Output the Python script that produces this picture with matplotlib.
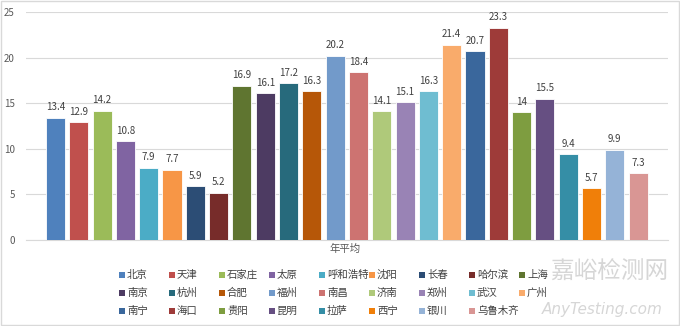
import numpy as np
import matplotlib
matplotlib.use("Agg")
import matplotlib.pyplot as plt
from matplotlib.patches import Rectangle

plt.rcParams['font.family'] = ['Noto Sans CJK SC', 'DejaVu Sans']

# 城市与年平均值
cities = ['北京', '天津', '石家庄', '太原', '呼和浩特', '沈阳', '长春', '哈尔滨', '上海',
          '南京', '杭州', '合肥', '福州', '南昌', '济南', '郑州', '武汉', '广州',
          '南宁', '海口', '贵阳', '昆明', '拉萨', '西宁', '银川', '乌鲁木齐']
values = [13.4, 12.9, 14.2, 10.8, 7.9, 7.7, 5.9, 5.2, 16.9,
          16.1, 17.2, 16.3, 20.2, 18.4, 14.1, 15.1, 16.3, 21.4,
          20.7, 23.3, 14, 15.5, 9.4, 5.7, 9.9, 7.3]
labels = ['13.4', '12.9', '14.2', '10.8', '7.9', '7.7', '5.9', '5.2', '16.9',
          '16.1', '17.2', '16.3', '20.2', '18.4', '14.1', '15.1', '16.3', '21.4',
          '20.7', '23.3', '14', '15.5', '9.4', '5.7', '9.9', '7.3']
yticks = [0, 5, 10, 15, 20, 25]

colors = ['#4F81BD', '#C0504D', '#9BBB59', '#8064A2', '#4BACC6', '#F79646', '#2C4D75', '#772C2A', '#5F7530',
          '#4D3B62', '#276A7C', '#B65708', '#729ACA', '#CD7371', '#AFC97A', '#9983B5', '#6FBDD1', '#F9AB6B',
          '#3A679C', '#9E3B39', '#7E9D40', '#664F82', '#358EA6', '#F07F09', '#95B3D7', '#D99694']

fig = plt.figure(figsize=(6.8, 3.26), dpi=100)
ax = fig.add_axes([0.038, 0.264, 0.944, 0.699])

x = np.arange(len(values))
ax.bar(x, values, width=0.82, color=colors, edgecolor='white', linewidth=0.6, zorder=3)
for xi, v, lab in zip(x, values, labels):
    ax.text(xi, v + 0.6, lab, ha='center', va='bottom', fontsize=7, color='#404040')

ax.set_xlim(-1.27, 26.27)
ax.set_ylim(0, 25)
ax.set_yticks(yticks)
ax.set_xticks([])
ax.tick_params(axis='y', length=0, labelsize=7, labelcolor='#595959', pad=8)
ax.grid(axis='y', color='#D9D9D9', linewidth=0.8, zorder=0)
for s in ['top', 'right', 'left']:
    ax.spines[s].set_visible(False)
ax.spines['bottom'].set_color('#D9D9D9')

fig.text(0.507, 0.236, '年平均', ha='center', va='center', fontsize=7.5, color='#595959')

# 图例 (9列)
ncol = 9
for i, (c, col) in enumerate(zip(cities, colors)):
    r, k = divmod(i, ncol)
    px = 122 + k * 50
    py = 275 + r * 18
    fig.patches.append(Rectangle(((px - 3) / 680, 1 - (py + 3) / 326), 6 / 680, 6 / 326,
                                 transform=fig.transFigure, facecolor=col, edgecolor='none'))
    fig.text((px + 5) / 680, 1 - py / 326, c, ha='left', va='center', fontsize=7.5, color='#404040')

# 水印
fig.text(0.982, 0.165, '嘉峪检测网', ha='right', va='center', fontsize=17, color='#BBBBBB', alpha=0.6)
fig.text(0.975, 0.052, 'AnyTesting.com', ha='right', va='center', fontsize=11, color='#BBBBBB',
         alpha=0.6, style='italic', family='DejaVu Sans')

fig.patches.append(Rectangle((0.001, 0.002), 0.997, 0.995, transform=fig.transFigure,
                             fill=False, edgecolor='#D9D9D9', linewidth=1))

fig.savefig('out.png', dpi=100)
